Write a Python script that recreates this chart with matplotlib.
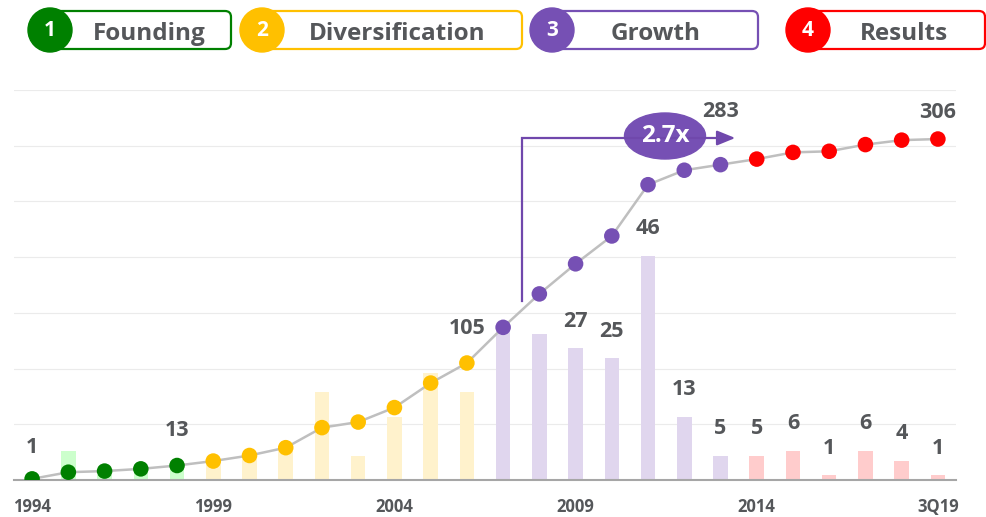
import matplotlib
matplotlib.use("Agg")
import matplotlib.pyplot as plt
from matplotlib.patches import FancyBboxPatch, Circle, Ellipse
import numpy as np

plt.rcParams['font.family'] = ['Open Sans', 'DejaVu Sans']

# data
periods = [str(y) for y in range(1994, 2019)] + ['3Q19']
annual = [1, 6, 1, 2, 3, 4, 5, 7, 18, 5, 13, 22, 18, 32, 30, 27, 25, 46, 13, 5, 5, 6, 1, 6, 4, 1]
cumulative = [1, 7, 8, 10, 13, 17, 22, 29, 47, 52, 65, 87, 105, 137, 167, 194, 219, 265, 278,
              283, 288, 294, 295, 301, 305, 306]
phase = ['Founding'] * 5 + ['Diversification'] * 8 + ['Growth'] * 7 + ['Results'] * 6
phase_names = ['Founding', 'Diversification', 'Growth', 'Results']
tick_labels = ['1994', '1999', '2004', '2009', '2014', '3Q19']
line_labels = {0: 31, 4: 35, 12: 35, 19: 53, 25: 27}   # index -> px above point
bar_label_from = 15
growth_multiple = '2.7x'

dark = {'Founding': '#008000', 'Diversification': '#FFC000', 'Growth': '#7650B4', 'Results': '#FF0000'}
light = {'Founding': '#CCFFCC', 'Diversification': '#FFF2CC', 'Growth': '#E0D6EE', 'Results': '#FFCCCC'}
txt = '#55575A'

W, H = 986, 517
fig = plt.figure(figsize=(W / 100, H / 100), dpi=100)
ax = fig.add_axes([14 / W, 37 / H, 942 / W, 390 / H])
ax2 = ax.twinx()

x = np.arange(len(periods))

# bars (annual)
ax.bar(x, annual, width=0.4, color=[light[p] for p in phase], zorder=2)
ax.set_ylim(0, 80)
ax.set_xlim(-0.5, len(periods) - 0.5)
ax.set_yticks(np.linspace(0, 80, 8))
ax.grid(axis='y', color='#EBEBEB', linewidth=0.8, zorder=0)
ax.set_axisbelow(True)
ax.tick_params(left=False, labelleft=False, bottom=False, length=0)
ax.set_xticks([periods.index(t) for t in tick_labels])
ax.set_xticklabels(tick_labels, fontsize=12, fontweight='bold', color=txt)
ax.tick_params(axis='x', pad=13)
for s in ['top', 'right', 'left']:
    ax.spines[s].set_visible(False)
ax.spines['bottom'].set_color('#A6A6A6')
ax.spines['bottom'].set_linewidth(1.5)

for i in range(bar_label_from, len(periods)):
    ax.annotate(str(annual[i]), (x[i], annual[i]), xytext=(0, 27), textcoords='offset pixels',
                ha='center', va='center', fontsize=15.5, fontweight='bold', color=txt)

# cumulative line
ax2.set_ylim(0, 350)
ax2.plot(x, cumulative, color='#BFBFBF', linewidth=1.8, zorder=3)
ax2.scatter(x, cumulative, s=11.2 ** 2, color=[dark[p] for p in phase], zorder=4, linewidths=0)
ax2.axis('off')
for i, off in line_labels.items():
    ax2.annotate(str(cumulative[i]), (x[i], cumulative[i]), xytext=(0, off), textcoords='offset pixels',
                 ha='center', va='center', fontsize=15.5, fontweight='bold', color=txt)

# overlay in pixel coordinates for header and growth arrow
ov = fig.add_axes([0, 0, 1, 1], zorder=10)
ov.set_xlim(0, W)
ov.set_ylim(H, 0)
ov.axis('off')
ov.patch.set_alpha(0)

header = [(50, 231, 149), (262, 522, 397), (552, 758, 656), (808, 985, 904)]
for n, (name, (cx, right, tx)) in enumerate(zip(phase_names, header), start=1):
    ov.add_patch(FancyBboxPatch((cx, 11), right - cx, 38, boxstyle='round,pad=0,rounding_size=6',
                                facecolor='white', edgecolor=dark[name], linewidth=1.6))
    ov.add_patch(Circle((cx, 30), 22, color=dark[name]))
    ov.text(cx, 36.5, str(n), ha='center', va='baseline', color='white', fontsize=15, fontweight='bold')
    ov.text(tx, 39.5, name, ha='center', va='baseline', color=txt, fontsize=17.5, fontweight='bold')

purple = '#7048AC'
ov.plot([522, 522, 722], [301, 138, 138], color=purple, linewidth=1.6, solid_joinstyle='miter')
ov.annotate('', xy=(738, 138), xytext=(720, 138),
            arrowprops=dict(arrowstyle='-|>,head_length=1.1,head_width=0.45', color=purple, lw=1.6))
ov.add_patch(Ellipse((665, 136), 81, 46, color='#7650B4'))
ov.text(665, 136, growth_multiple, ha='center', va='center', color='white', fontsize=17.5, fontweight='bold')

fig.savefig('out.png', dpi=100)
